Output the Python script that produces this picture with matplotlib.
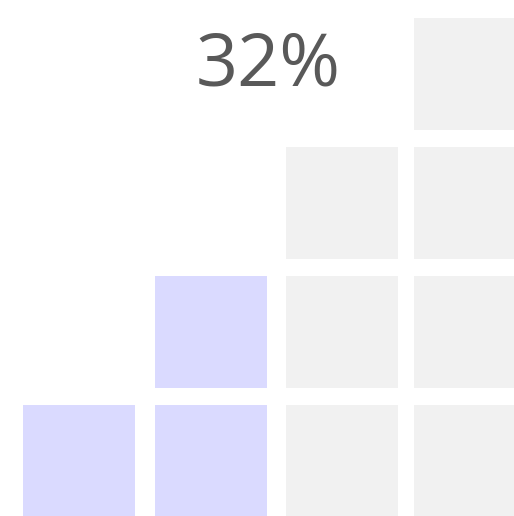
import matplotlib.pyplot as plt
from matplotlib.patches import Rectangle

# data: staircase waffle, column heights and share filled
col_heights = [1, 2, 3, 4]
percent = 32
label = f"{percent}%"

total_cells = sum(col_heights)
n_filled = round(total_cells * percent / 100)

# layout (pixels)
W, H = 514, 516
col_left = [23, 155, 286, 414]
row_top = [405, 276, 147, 18]   # bottom row first
cell = 112

fill_color = "#dadaff"
empty_color = "#f1f1f1"
text_color = "#595959"

fig = plt.figure(figsize=(W / 100, H / 100), dpi=100)
ax = fig.add_axes([0, 0, 1, 1])
ax.set_xlim(0, W)
ax.set_ylim(H, 0)
ax.axis("off")

# fill cells column by column, bottom up
k = 0
for c, h in enumerate(col_heights):
    for r in range(h):
        color = fill_color if k < n_filled else empty_color
        ax.add_patch(Rectangle((col_left[c], row_top[r]), cell, cell,
                               facecolor=color, edgecolor="none"))
        k += 1

ax.text(268, 86, label, ha="center", va="baseline", fontsize=53,
        color=text_color, family=["Open Sans", "DejaVu Sans"])

plt.savefig("out.png", dpi=100)
